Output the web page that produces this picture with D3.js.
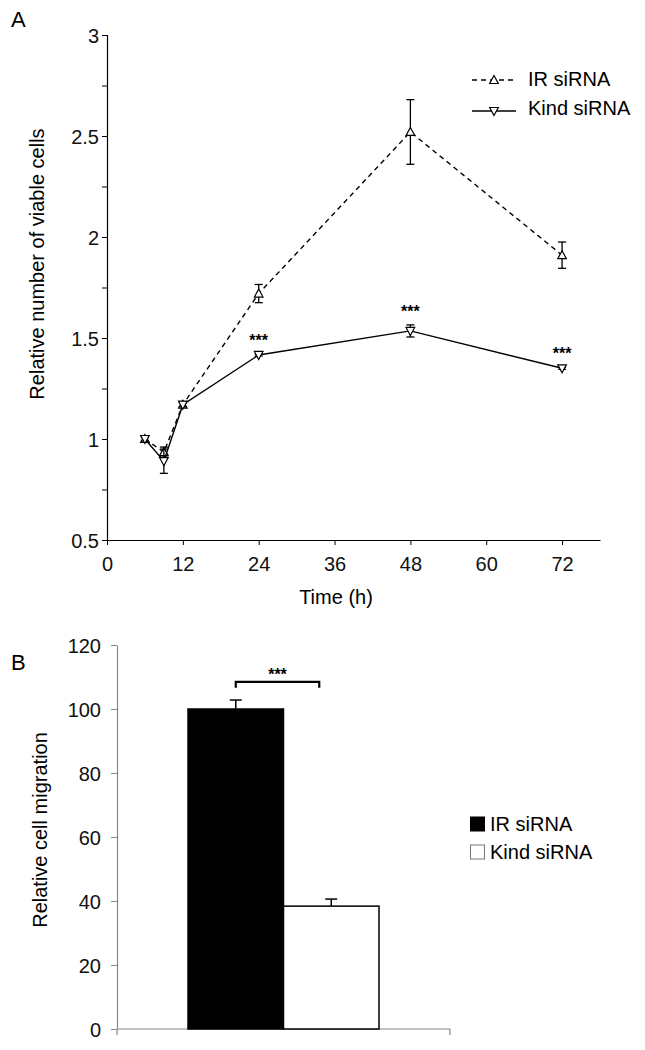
<!DOCTYPE html>
<html><head><meta charset="utf-8">
<script src="https://cdnjs.cloudflare.com/ajax/libs/d3/7.8.5/d3.min.js"></script>
<style>body{margin:0;background:#fff}svg{display:block;font-family:"Liberation Sans",Arial,sans-serif}</style>
</head><body>
<script>
// Panel A data
const times = [6, 9, 12, 24, 48, 72];
const irMean = [1.0, 0.935, 1.17, 1.72, 2.52, 1.91];
const irErr  = [0.01, 0.025, 0.01, 0.045, 0.16, 0.065];
const kindMean = [1.0, 0.89, 1.17, 1.416, 1.535, 1.35];
const kindErr  = [0.01, 0.06, 0.01, 0.005, 0.03, 0.005];
const sigTimes = [24, 48, 72];
const xTicks = [0, 12, 24, 36, 48, 60, 72];
const yTicksA = [0.5, 1, 1.5, 2, 2.5, 3];
const seriesNames = ["IR siRNA", "Kind siRNA"];
// Panel B data
const barGroups = ["IR siRNA", "Kind siRNA"];
const barValues = [100, 38.4];
const barErrors = [2.8, 2.2];
const yTicksB = [0, 20, 40, 60, 80, 100, 120];

const W = 645, H = 1050;
const FONT = "Liberation Sans, Arial, sans-serif";
const svg = d3.select("body").append("svg").attr("width", W).attr("height", H);

// ---------- Panel A ----------
const xA = d3.scaleLinear().domain([0, 78]).range([107, 600]);
const yA = d3.scaleLinear().domain([0.5, 3]).range([540, 35]);

svg.append("text").attr("x", 11).attr("y", 27).attr("font-size", 22).text("A");

const yAxA = svg.append("g").attr("transform", "translate(107,0)")
  .call(d3.axisLeft(yA).tickValues(d3.range(0.5, 3.01, 0.25)).tickSize(5)
    .tickFormat(d => yTicksA.includes(d) ? d3.format("")(d) : ""));
const xAxA = svg.append("g").attr("transform", "translate(0,540)")
  .call(d3.axisBottom(xA).tickValues(xTicks).tickSize(5).tickSizeOuter(0));
[yAxA, xAxA].forEach(g => {
  g.select(".domain").attr("stroke", "#000").attr("stroke-width", 1.2);
  g.selectAll(".tick line").attr("stroke", "#000");
  g.selectAll("text").attr("font-size", 20).attr("fill", "#111").style("font-family", FONT);
});
yAxA.selectAll("text").attr("x", -8).attr("dy", "0.36em");
xAxA.selectAll("text").attr("y", 17);

svg.append("text").attr("transform", "translate(44,264) rotate(-90)").attr("text-anchor", "middle")
  .attr("font-size", 20).text("Relative number of viable cells");
svg.append("text").attr("x", 336).attr("y", 604).attr("text-anchor", "middle").attr("font-size", 20).text("Time (h)");

const lineGen = d3.line().x(d => xA(d[0])).y(d => yA(d[1]));
const tri = (cx, cy, up) => up
  ? `M${cx},${cy - 4.5}L${cx + 4.3},${cy + 3.5}L${cx - 4.3},${cy + 3.5}Z`
  : `M${cx},${cy + 4.5}L${cx + 4.3},${cy - 3.5}L${cx - 4.3},${cy - 3.5}Z`;

function drawSeries(means, errs, dashed, up) {
  const pts = times.map((t, i) => [t, means[i]]);
  svg.append("path").attr("d", lineGen(pts)).attr("fill", "none").attr("stroke", "#000")
    .attr("stroke-width", 1.4).attr("stroke-dasharray", dashed ? "5,4" : null);
  times.forEach((t, i) => {
    const cx = xA(t), y1 = yA(means[i] + errs[i]), y2 = yA(means[i] - errs[i]);
    const g = svg.append("g").attr("stroke", "#000").attr("stroke-width", 1.3);
    g.append("line").attr("x1", cx).attr("x2", cx).attr("y1", y1).attr("y2", y2);
    g.append("line").attr("x1", cx - 4).attr("x2", cx + 4).attr("y1", y1).attr("y2", y1);
    g.append("line").attr("x1", cx - 4).attr("x2", cx + 4).attr("y1", y2).attr("y2", y2);
    svg.append("path").attr("d", tri(cx, yA(means[i]), up)).attr("fill", "#fff")
      .attr("stroke", "#000").attr("stroke-width", 1.2);
  });
}
drawSeries(irMean, irErr, true, true);
drawSeries(kindMean, kindErr, false, false);

sigTimes.forEach(t => {
  const i = times.indexOf(t);
  svg.append("text").attr("x", xA(t)).attr("y", yA(kindMean[i] + kindErr[i]) - 8)
    .attr("text-anchor", "middle").attr("font-size", 16).attr("font-weight", "bold").text("***");
});

// legend A
seriesNames.forEach((name, i) => {
  const y = 80 + i * 31;
  svg.append("line").attr("x1", 472).attr("x2", 516).attr("y1", y).attr("y2", y)
    .attr("stroke", "#000").attr("stroke-width", 1.3).attr("stroke-dasharray", i === 0 ? "5,4" : null);
  svg.append("path").attr("d", tri(494, y, i === 0)).attr("fill", "#fff").attr("stroke", "#000").attr("stroke-width", 1.2);
  svg.append("text").attr("x", 528).attr("y", y + (i === 0 ? 6 : 4)).attr("font-size", 20).text(name);
});

// ---------- Panel B ----------
svg.append("text").attr("x", 11).attr("y", 670).attr("font-size", 22).text("B");

const xB = d3.scaleBand().domain(barGroups).range([188, 379]).padding(0);
const yB = d3.scaleLinear().domain([0, 120]).range([1029, 645]);

const yAxB = svg.append("g").attr("transform", "translate(117,0)")
  .call(d3.axisLeft(yB).tickValues(yTicksB).tickSize(6).tickSizeOuter(0));
yAxB.select(".domain").attr("stroke", "#888").attr("stroke-width", 1.2);
yAxB.selectAll(".tick line").attr("stroke", "#888");
yAxB.selectAll("text").attr("font-size", 20).attr("fill", "#111").attr("x", -16).attr("dy", "0.36em").style("font-family", FONT);

svg.append("line").attr("x1", 117).attr("x2", 450).attr("y1", 1029).attr("y2", 1029).attr("stroke", "#888").attr("stroke-width", 1.2);
svg.append("line").attr("x1", 450).attr("x2", 450).attr("y1", 1029).attr("y2", 1035).attr("stroke", "#888").attr("stroke-width", 1.2);
svg.append("line").attr("x1", 117).attr("x2", 117).attr("y1", 1029).attr("y2", 1035).attr("stroke", "#888").attr("stroke-width", 1.2);

svg.append("text").attr("transform", "translate(47,830) rotate(-90)").attr("text-anchor", "middle")
  .attr("font-size", 20).text("Relative cell migration");

barGroups.forEach((g, i) => {
  const x = xB(g), w = xB.bandwidth();
  const cx = x + w / 2;
  const eT = yB(barValues[i] + barErrors[i]);
  svg.append("line").attr("x1", cx).attr("x2", cx).attr("y1", eT).attr("y2", yB(barValues[i])).attr("stroke", "#000").attr("stroke-width", 1.5);
  svg.append("line").attr("x1", cx - 6).attr("x2", cx + 6).attr("y1", eT).attr("y2", eT).attr("stroke", "#000").attr("stroke-width", 1.5);
  svg.append("rect").attr("x", x).attr("y", yB(barValues[i])).attr("width", w)
    .attr("height", yB(0) - yB(barValues[i]))
    .attr("fill", i === 0 ? "#000" : "#fff").attr("stroke", "#000").attr("stroke-width", 1.5);
});

// significance bracket
const bx1 = xB(barGroups[0]) + xB.bandwidth() / 2, bx2 = xB(barGroups[1]) + xB.bandwidth() / 2 - 12;
const by = yB(108.5);
svg.append("path").attr("d", `M${bx1},${by + 6}V${by}H${bx2}V${by + 6}`).attr("fill", "none")
  .attr("stroke", "#000").attr("stroke-width", 2.2);
svg.append("text").attr("x", (bx1 + bx2) / 2).attr("y", by - 2).attr("text-anchor", "middle")
  .attr("font-size", 16).attr("font-weight", "bold").text("***");

// legend B
barGroups.forEach((g, i) => {
  const y = 817 + i * 28;
  svg.append("rect").attr("x", 470.5).attr("y", y).attr("width", 14).attr("height", 14)
    .attr("fill", i === 0 ? "#000" : "#fff").attr("stroke", i === 0 ? "#000" : "#777").attr("stroke-width", 1);
  svg.append("text").attr("x", 490).attr("y", y + 14).attr("font-size", 20).text(g);
});
</script>
</body></html>
